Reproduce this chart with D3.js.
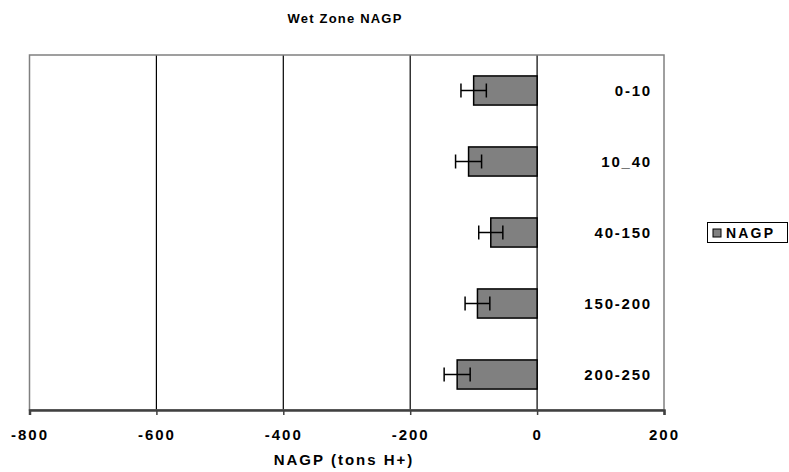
<!DOCTYPE html>
<html><head><meta charset="utf-8">
<script src="https://cdn.jsdelivr.net/npm/d3@7"></script>
<style>body{margin:0;background:#fff}svg{display:block}text{font-family:"Liberation Sans",Arial,sans-serif;font-weight:bold}</style>
</head><body><svg id="c" width="789" height="472"></svg>
<script>
const categories = ["0-10","10_40","40-150","150-200","200-250"];
const values = [-100,-108,-73,-94,-126];
const errors = [20,20.5,19,19.5,20.5];
const xTicks = [-800,-600,-400,-200,0,200];

const svg = d3.select("#c");
const L=29.5, R=664, T=55, B=410;
const x = d3.scaleLinear().domain([-800,200]).range([L,R]);
const y = d3.scaleBand().domain(categories).range([T,B]).paddingInner(0.59).paddingOuter(0.295);

// gridlines
svg.append("g").selectAll("line").data(xTicks.filter(d=>d>-800&&d<200)).join("line")
  .attr("x1",d=>x(d)).attr("x2",d=>x(d)).attr("y1",T).attr("y2",B)
  .attr("stroke","#000").attr("stroke-width",1.2);
// plot border
svg.append("rect").attr("x",L).attr("y",T).attr("width",R-L).attr("height",B-T)
  .attr("fill","none").attr("stroke","#808080").attr("stroke-width",1.5);

// bars
svg.append("g").selectAll("rect").data(categories).join("rect")
  .attr("x",(d,i)=>x(values[i])).attr("width",(d,i)=>x(0)-x(values[i]))
  .attr("y",d=>y(d)).attr("height",y.bandwidth())
  .attr("fill","#808080").attr("stroke","#000").attr("stroke-width",1.5);

// error bars
const eb = svg.append("g").attr("stroke","#000").attr("stroke-width",1.5);
categories.forEach((c,i)=>{
  const cy = y(c)+y.bandwidth()/2;
  const x1 = x(values[i]-errors[i]), x2 = x(values[i]+errors[i]);
  eb.append("line").attr("x1",x1).attr("x2",x2).attr("y1",cy).attr("y2",cy);
  eb.append("line").attr("x1",x1).attr("x2",x1).attr("y1",cy-7).attr("y2",cy+7);
  eb.append("line").attr("x1",x2).attr("x2",x2).attr("y1",cy-7).attr("y2",cy+7);
});

// category labels
svg.append("g").selectAll("text").data(categories).join("text")
  .attr("x",652).attr("y",d=>y(d)+y.bandwidth()/2).attr("dy","0.36em")
  .attr("text-anchor","end").attr("font-size",15).attr("letter-spacing",1.8).attr("fill","#000")
  .text(d=>d);

// x axis
const ax = svg.append("g").attr("transform",`translate(0,${B})`)
  .call(d3.axisBottom(x).tickValues(xTicks).tickSize(5).tickPadding(14).tickFormat(d=>String(d)));
ax.select(".domain").attr("stroke","#404040").attr("stroke-width",2.5);
ax.selectAll(".tick line").attr("stroke","#404040").attr("stroke-width",1.5);
ax.selectAll(".tick text").attr("font-size",15).attr("letter-spacing",2).attr("fill","#000")
  .attr("font-family","'Liberation Sans',Arial,sans-serif").attr("font-weight","bold");

// titles
svg.append("text").attr("x",345).attr("y",23).attr("text-anchor","middle")
  .attr("font-size",13).attr("letter-spacing",1.2).text("Wet Zone NAGP");
svg.append("text").attr("x",344).attr("y",465).attr("text-anchor","middle")
  .attr("font-size",15).attr("letter-spacing",2).text("NAGP (tons H+)");

// legend
const lg = svg.append("g");
lg.append("rect").attr("x",707.5).attr("y",222.5).attr("width",80).attr("height",20)
  .attr("fill","#fff").attr("stroke","#000").attr("stroke-width",1);
lg.append("rect").attr("x",713).attr("y",229).attr("width",8).attr("height",8)
  .attr("fill","#808080").attr("stroke","#000").attr("stroke-width",1);
lg.append("text").attr("x",726).attr("y",238).attr("font-size",14).attr("letter-spacing",2.2).text("NAGP");
</script></body></html>
